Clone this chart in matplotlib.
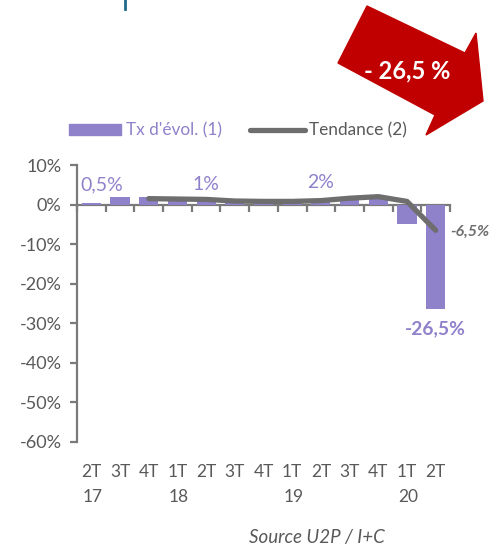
import matplotlib.pyplot as plt
from matplotlib.patches import Polygon, Rectangle
from matplotlib.lines import Line2D
import numpy as np

plt.rcParams['font.family'] = ['Lato', 'DejaVu Sans']

quarters = ['2T', '3T', '4T', '1T', '2T', '3T', '4T', '1T', '2T', '3T', '4T', '1T', '2T']
years = ['17', '', '', '18', '', '', '', '19', '', '', '', '20', '']
taux = [0.5, 1.8, 1.8, 1.2, 1.0, 0.8, 0.7, 0.8, 1.0, 1.8, 1.8, -5.0, -26.5]
tendance = [np.nan, np.nan, 1.5, 1.4, 1.3, 0.9, 0.8, 0.8, 1.0, 1.6, 2.0, 0.8, -6.5]
yticks = [10, 0, -10, -20, -30, -40, -50, -60]

W, H = 495, 545
PURPLE = '#9081CB'
GREY_LINE = '#6e6e6e'
GREY_TXT = '#595959'
AXIS = '#7a7a7a'


def fx(x, y):
    return x / W, 1 - y / H


fig = plt.figure(figsize=(W / 100, H / 100), dpi=100)
ax = fig.add_axes([77 / W, 1 - 442 / H, (450 - 77) / W, (442 - 165) / H])

x = np.arange(len(taux))
ax.bar(x, taux, width=0.67, color=PURPLE, zorder=2)
ax.plot(x, tendance, color=GREY_LINE, lw=3.8, solid_capstyle='round',
        solid_joinstyle='round', zorder=3)

ax.set_xlim(-0.5, len(taux) - 0.5)
ax.set_ylim(-60, 10)
ax.set_yticks(yticks)
ax.set_yticklabels([f'{v}%' for v in yticks], color=GREY_TXT, fontsize=13)
ax.tick_params(axis='y', length=5, width=1.6, color=AXIS, pad=6)

ax.spines['top'].set_visible(False)
ax.spines['right'].set_visible(False)
ax.spines['left'].set_color(AXIS)
ax.spines['left'].set_linewidth(1.6)
ax.spines['bottom'].set_position(('data', 0))
ax.spines['bottom'].set_color(AXIS)
ax.spines['bottom'].set_linewidth(1.6)
ax.spines['bottom'].set_zorder(1)
ax.set_xticks([])
ax.set_xticks(np.arange(-0.5, len(taux), 1), minor=True)
ax.tick_params(axis='x', which='minor', length=5, width=1.6, color=AXIS,
               direction='out', labelbottom=False)

# category labels under the plot
for i, (q, yr) in enumerate(zip(quarters, years)):
    ax.text(i, -67.5, q, ha='center', va='center', color=GREY_TXT, fontsize=12.5,
            clip_on=False)
    if yr:
        ax.text(i + 0.05, -73.8, yr, ha='center', va='center', color=GREY_TXT,
                fontsize=12.5, clip_on=False)

# data labels
ax.text(0.35, 5, '0,5%', ha='center', va='center', color=PURPLE, fontsize=14)
ax.text(4, 5, '1%', ha='center', va='center', color=PURPLE, fontsize=14)
ax.text(8, 5.5, '2%', ha='center', va='center', color=PURPLE, fontsize=14)
ax.text(12.5, -7, '-6,5%', ha='left', va='center', color=GREY_LINE, fontsize=11.5,
        fontweight='bold', style='italic', clip_on=False)
ax.text(12.0, -31.5, '-26,5%', ha='center', va='center', color=PURPLE, fontsize=13.8,
        fontweight='bold', clip_on=False)

# legend
fig.patches.append(Rectangle(fx(69, 135), 52 / W, 11 / H, transform=fig.transFigure,
                             color=PURPLE))
fig.text(*fx(126, 130), "Tx d'évol. (1)", color=PURPLE, fontsize=12.4, va='center')
fig.lines.append(Line2D([250 / W, 305 / W], [1 - 130 / H] * 2, transform=fig.transFigure,
                        color=GREY_LINE, lw=3.8, solid_capstyle='round'))
fig.text(*fx(309, 130), 'Tendance (2)', color=GREY_TXT, fontsize=12.4, va='center')

# red arrow
arrow_pts = [(367, 6), (465, 53), (476, 33), (483, 101), (426, 135), (435, 115), (338, 63)]
fig.patches.append(Polygon([fx(px, py) for px, py in arrow_pts], closed=True,
                           transform=fig.transFigure, color='#C00000', zorder=5))
fig.text(*fx(407, 71), '- 26,5 %', color='white', fontsize=17, fontweight='bold',
         ha='center', va='center', zorder=6)

# fragment of cut title
fig.lines.append(Line2D([125 / W, 125 / W], [1 - 0 / H, 1 - 9 / H], transform=fig.transFigure,
                        color='#1F6A8A', lw=2))

fig.text(*fx(317, 537), 'Source U2P / I+C', color=GREY_TXT, fontsize=13.5,
         style='italic', ha='center', va='center')

fig.savefig('out.png', dpi=100)
